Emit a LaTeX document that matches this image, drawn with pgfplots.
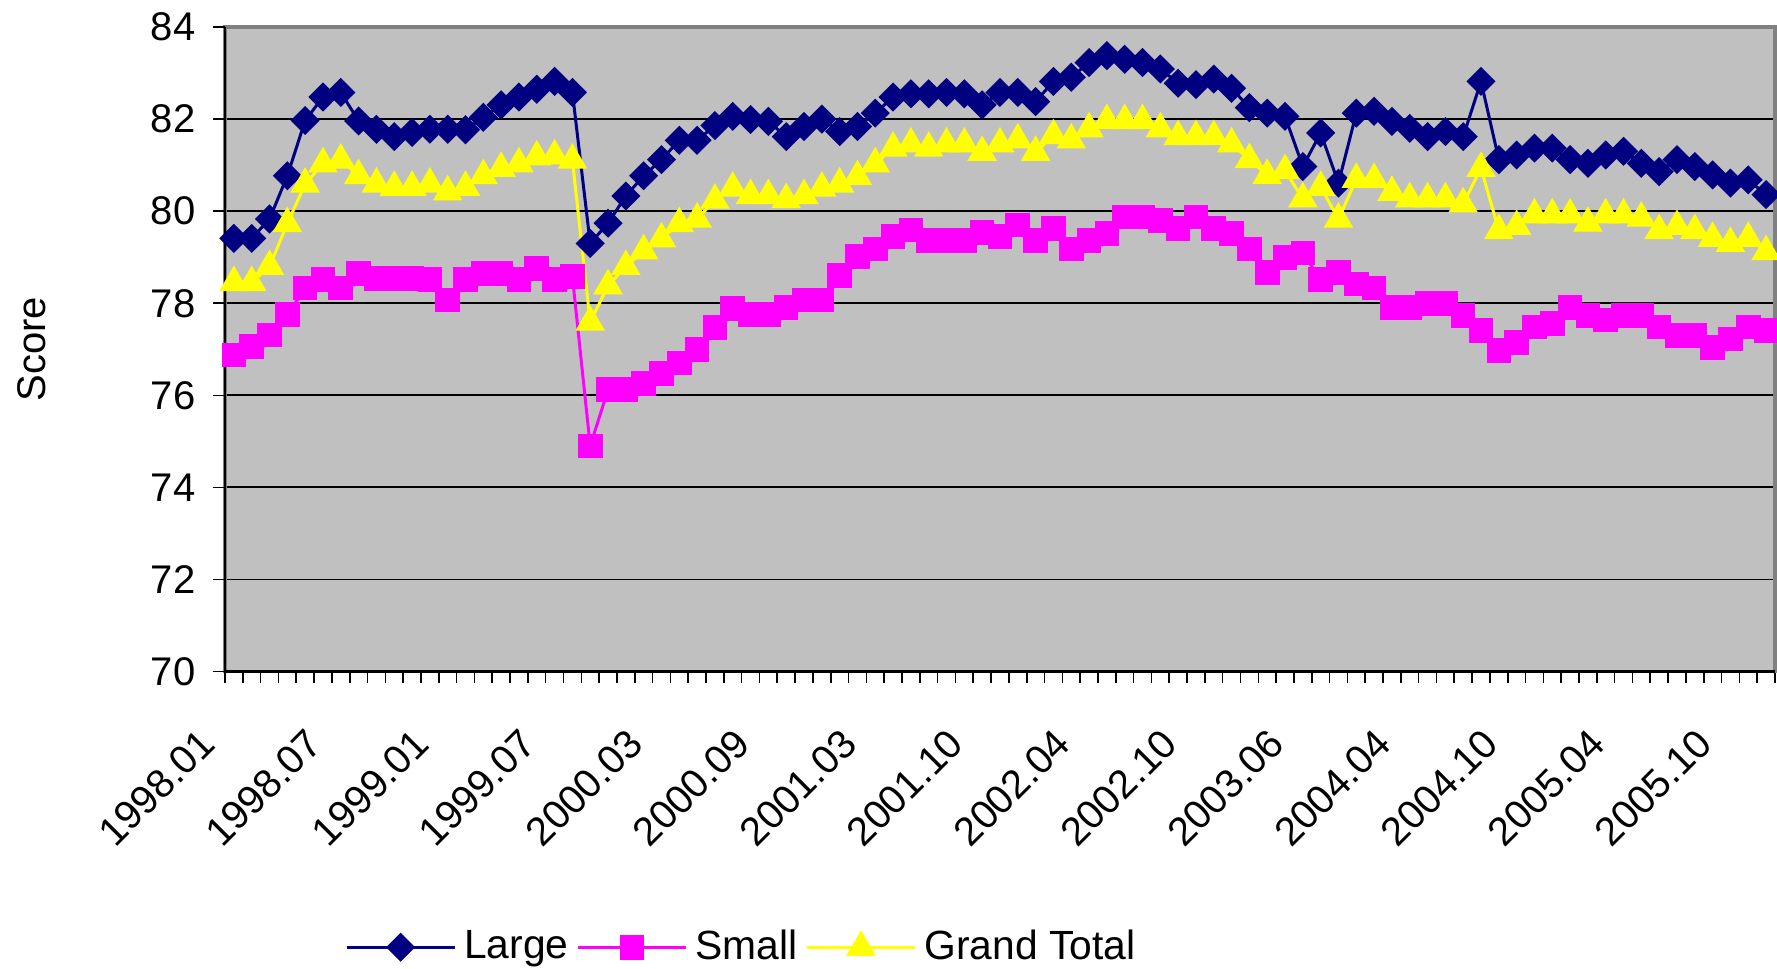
\documentclass[border=0pt]{standalone}
\usepackage{fontspec}
\setmainfont{Liberation Sans}
\usepackage{pgfplots}
\usepackage{pgfplotstable}
\pgfplotsset{compat=1.18}
\definecolor{cLarge}{RGB}{0,0,128}
\definecolor{cSmall}{RGB}{255,0,255}
\definecolor{cTotal}{RGB}{255,255,0}
\definecolor{plotbg}{RGB}{192,192,192}
\definecolor{border}{RGB}{128,128,128}
\pgfplotstableread{
i L S G
0 79.41 76.88 78.45
1 79.41 77.06 78.45
2 79.83 77.31 78.80
3 80.77 77.75 79.73
4 81.97 78.33 80.59
5 82.48 78.51 81.03
6 82.58 78.33 81.11
7 81.96 78.65 80.77
8 81.78 78.54 80.59
9 81.62 78.54 80.52
10 81.71 78.54 80.52
11 81.78 78.51 80.59
12 81.78 78.07 80.42
13 81.77 78.51 80.52
14 82.04 78.65 80.77
15 82.31 78.65 80.93
16 82.48 78.51 81.03
17 82.65 78.76 81.18
18 82.82 78.51 81.20
19 82.58 78.58 81.11
20 79.30 74.90 77.59
21 79.74 76.12 78.38
22 80.33 76.12 78.80
23 80.77 76.26 79.14
24 81.12 76.48 79.40
25 81.54 76.70 79.73
26 81.54 76.99 79.83
27 81.86 77.47 80.24
28 82.06 77.89 80.50
29 81.99 77.75 80.34
30 81.95 77.75 80.34
31 81.62 77.91 80.25
32 81.84 78.07 80.34
33 82.00 78.07 80.50
34 81.73 78.60 80.59
35 81.84 79.01 80.75
36 82.13 79.18 81.03
37 82.48 79.45 81.37
38 82.55 79.59 81.46
39 82.55 79.36 81.37
40 82.58 79.36 81.46
41 82.55 79.36 81.46
42 82.31 79.54 81.28
43 82.58 79.45 81.46
44 82.58 79.70 81.55
45 82.38 79.36 81.28
46 82.82 79.62 81.64
47 82.91 79.18 81.55
48 83.23 79.36 81.79
49 83.38 79.52 81.97
50 83.30 79.87 81.97
51 83.23 79.87 81.97
52 83.09 79.80 81.79
53 82.78 79.62 81.62
54 82.75 79.87 81.62
55 82.87 79.62 81.62
56 82.67 79.52 81.46
57 82.25 79.18 81.12
58 82.13 78.67 80.78
59 82.06 79.00 80.88
60 80.97 79.09 80.27
61 81.70 78.51 80.52
62 80.61 78.67 79.83
63 82.13 78.42 80.69
64 82.17 78.33 80.69
65 81.95 77.91 80.41
66 81.80 77.91 80.27
67 81.62 77.99 80.27
68 81.73 77.99 80.27
69 81.62 77.73 80.16
70 82.82 77.41 80.93
71 81.12 76.97 79.58
72 81.22 77.15 79.67
73 81.37 77.48 79.92
74 81.37 77.56 79.92
75 81.12 77.91 79.92
76 81.04 77.73 79.74
77 81.22 77.64 79.92
78 81.30 77.73 79.92
79 81.04 77.73 79.85
80 80.86 77.48 79.58
81 81.12 77.30 79.67
82 80.97 77.30 79.58
83 80.79 77.04 79.41
84 80.61 77.22 79.30
85 80.68 77.48 79.41
86 80.36 77.41 79.12
}\datatable
\begin{document}
\begin{tikzpicture}
\path[use as bounding box] (-56.25pt,-74.375pt) rectangle (388pt,167.875pt);
\begin{axis}[
  at={(0,0)}, anchor=south west,
  scale only axis, width=387.5pt, height=161.1pt,
  xmin=-0.5, xmax=86.5, ymin=70, ymax=84,
  clip=false,
  axis background/.style={fill=plotbg},
  axis line style={draw=border, line width=0.9pt},
  xtick={0,6,...,84},
  xticklabels={1998.01,1998.07,1999.01,1999.07,2000.03,2000.09,2001.03,2001.10,2002.04,2002.10,2003.06,2004.04,2004.10,2005.04,2005.10},
  minor xtick={-0.5,0.5,...,86.5},
  major tick length=0pt,
  minor tick length=2.9pt,
  ytick={70,72,...,84},
  extra y ticks={70,72,...,84}, extra y tick labels={},
  extra y tick style={major tick length=3pt, grid=none},
  tick align=outside,
  xtick pos=bottom, ytick pos=left,
  tick style={black, line width=0.4pt},
  ymajorgrids, grid style={black, line width=0.45pt},
  xticklabel style={yshift=-13.8pt, xshift=-4.05pt, rotate=45, anchor=east},
  yticklabel style={xshift=-3.85pt},
  /pgf/number format/assume math mode=true,
  ticklabel style={font=\fontsize{10pt}{12pt}\selectfont},
  ylabel={Score},
  every axis y label/.style={at={(axis description cs:-0.1245,0.5)}, rotate=90, anchor=center, font=\fontsize{10pt}{12pt}\selectfont},
  legend columns=3,
  legend style={at={(axis description cs:0.077,-0.428)}, anchor=west, draw=none, fill=none, font=\fontsize{10.2pt}{12pt}\selectfont, inner sep=0pt},
  legend image code/.code={\draw[mark repeat=2,mark phase=2] plot coordinates {(0pt,0pt) (13.5pt,0pt) (27pt,0pt)};},
]
\addplot[cLarge, line width=0.75pt, mark=square*, mark size=2.2pt, mark options={rotate=45, solid, fill=cLarge}] table[x=i, y=L] {\datatable};
\addlegendentry{Large}
\addplot[cSmall, line width=0.75pt, mark=square*, mark size=2.7pt, mark options={solid, fill=cSmall}] table[x=i, y=S] {\datatable};
\addlegendentry{Small}
\addplot[cTotal, line width=0.75pt, mark=triangle*, mark size=3.5pt, mark options={solid, fill=cTotal}] table[x=i, y=G] {\datatable};
\addlegendentry{Grand Total}
\draw[black, line width=0.6pt] (rel axis cs:0,1) -- (rel axis cs:0,0) -- (rel axis cs:1,0);
\end{axis}
\end{tikzpicture}
\end{document}
